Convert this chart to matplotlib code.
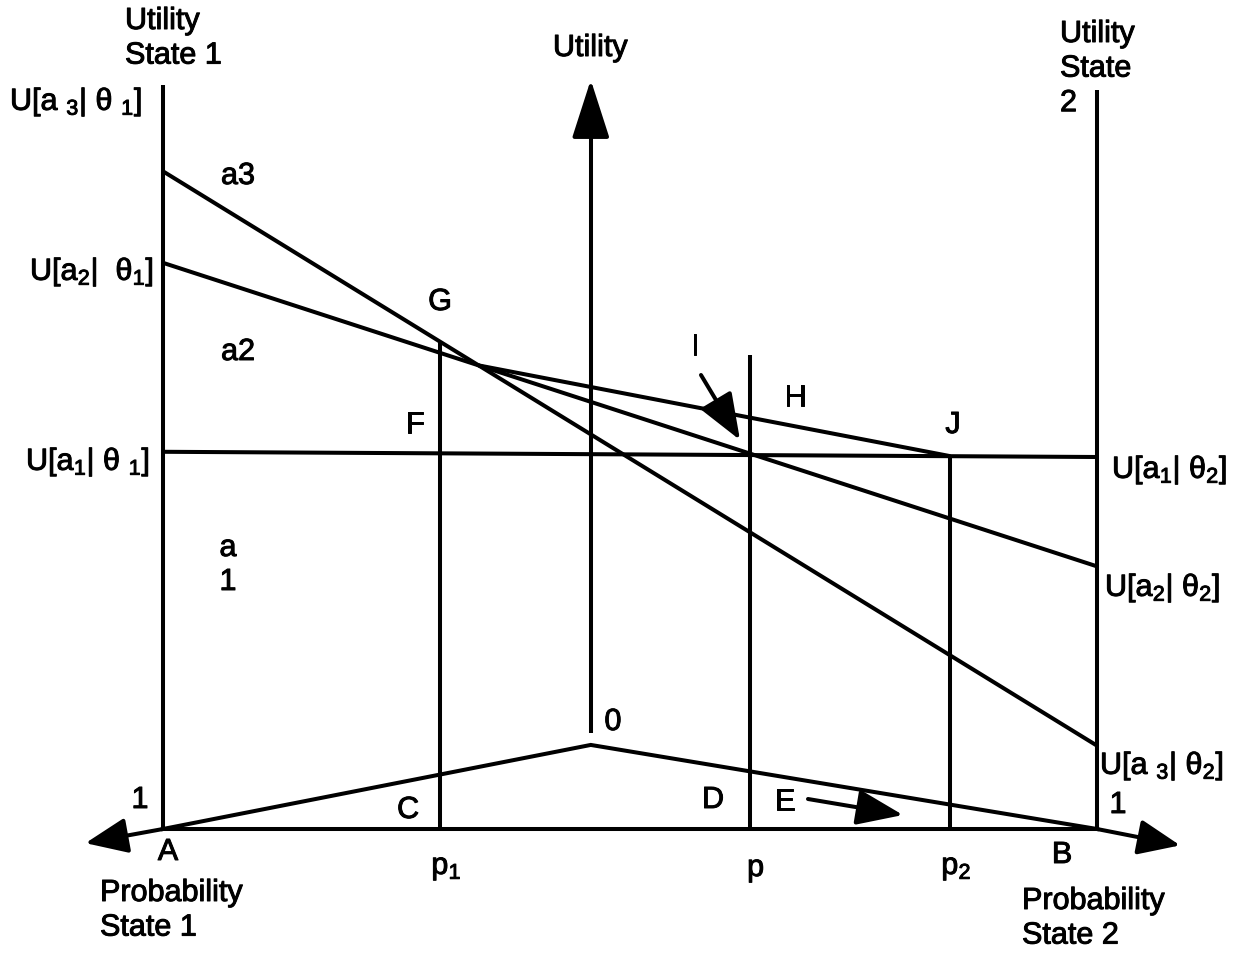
import matplotlib
matplotlib.use('Agg')
import matplotlib.pyplot as plt
import matplotlib.patheffects as pe

plt.rcParams['font.family'] = ['Liberation Sans', 'DejaVu Sans']
plt.rcParams['mathtext.fontset'] = 'custom'
plt.rcParams['mathtext.rm'] = 'Liberation Sans'
plt.rcParams['mathtext.it'] = 'Liberation Sans'
plt.rcParams['mathtext.default'] = 'regular'

# ---------------- data (probability of state 2 on x, utility on y) ----------------
actions = ['a1', 'a2', 'a3']
utility_state1 = [5.07, 7.61, 8.84]      # U[a_i | theta_1]
utility_state2 = [5.00, 3.53, 1.12]      # U[a_i | theta_2]
prob_marks = [0.297, 0.628, 0.843]       # p1, p, p2
prob_mark_labels = ['p$_1$', 'p', 'p$_2$']
utility_axis_top = 10.0
central_axis_prob = 0.458
central_axis_range = [1.29, 10.07]
tent_prob = [0.0, 0.458, 1.0]
tent_utility = [0.0, 1.13, 0.0]
p_line_top = 6.37
base_arrow_left = [-0.083, -0.19]
base_arrow_right = [1.089, -0.22]

# ---------------- figure ----------------
W, H = 1247, 956
fig = plt.figure(figsize=(W / 100, H / 100), dpi=100)
ax = fig.add_axes([0, 0, 1, 1])
x0, xs = 163, 934      # pixel of prob 0, pixels per unit prob
y0, ys = 829, 74.4     # pixel of utility 0, pixels per utility unit
ax.set_xlim(-x0 / xs, (W - x0) / xs)
ax.set_ylim(-(H - y0) / ys, y0 / ys)
ax.axis('off')

LW = 2.9
K = 'black'
kw = dict(color=K, lw=LW, solid_capstyle='butt')

def u_at(i, p):
    return utility_state1[i] + (utility_state2[i] - utility_state1[i]) * p

# side utility axes and probability base line
ax.plot([0, 0], [-0.01, utility_axis_top], **kw)
ax.plot([1, 1], [0.0, utility_axis_top - 0.07], **kw)
ax.plot([0, 1], [0, 0], **kw)
arrow = dict(arrowstyle='-|>,head_length=1.0,head_width=0.42', mutation_scale=26,
             lw=LW, color=K, shrinkA=0, shrinkB=0)
ax.annotate('', xy=base_arrow_left, xytext=(0, 0), arrowprops=arrow)
ax.annotate('', xy=base_arrow_right, xytext=(1, 0), arrowprops=arrow)

# central utility axis
ax.plot([central_axis_prob] * 2, [central_axis_range[0], central_axis_range[1] - 0.4], **kw)
ax.annotate('', xy=(central_axis_prob, central_axis_range[1]),
            xytext=(central_axis_prob, central_axis_range[1] - 0.6),
            arrowprops=dict(arrowstyle='-|>,head_length=1.4,head_width=0.45',
                            mutation_scale=26, lw=LW, color=K, shrinkA=0, shrinkB=0))

# action lines
for i in range(len(actions)):
    ax.plot([0, 1], [utility_state1[i], utility_state2[i]], **kw)

# vertical lines at p1, p, p2
p1, p, p2 = prob_marks
ax.plot([p1, p1], [0, u_at(2, p1)], **kw)
ax.plot([p, p], [0, p_line_top], **kw)
ax.plot([p2, p2], [0, u_at(0, p2)], **kw)

# chord from a2/a3 intersection to J
d2 = utility_state2[1] - utility_state1[1]
d3 = utility_state2[2] - utility_state1[2]
px_int = (utility_state1[1] - utility_state1[2]) / (d3 - d2)
ax.plot([px_int, p2], [u_at(1, px_int), u_at(0, p2)], **kw)

# tent line
ax.plot(tent_prob, tent_utility, color=K, lw=LW, solid_joinstyle='miter')

# ---------------- text overlay in pixel coordinates ----------------
tx = fig.add_axes([0, 0, 1, 1], facecolor='none')
tx.set_xlim(0, W)
tx.set_ylim(H, 0)
tx.axis('off')
FS = 22
thick = [pe.withStroke(linewidth=0.7, foreground=K)]

def T(x, y, s, ha='center', va='center', **k):
    tx.text(x, y, s, ha=ha, va=va, fontsize=FS, color=K, linespacing=1.2,
            path_effects=thick, **k)

T(125, 6, 'Utility\nState 1', ha='left', va='top')
T(590, 48, 'Utility')
T(1060, 19, 'Utility\nState\n2', ha='left', va='top')

T(10, 110, r'U[a $_3$| θ $_1$]', ha='left', va='baseline')
T(30, 280, r'U[a$_2$|  θ$_1$]', ha='left', va='baseline')
T(26, 470, r'U[a$_1$| θ $_1$]', ha='left', va='baseline')
T(1112, 478, r'U[a$_1$| θ$_2$]', ha='left', va='baseline')
T(1105, 596, r'U[a$_2$| θ$_2$]', ha='left', va='baseline')
T(1100, 774, r'U[a $_3$| θ$_2$]', ha='left', va='baseline')

T(238, 176, 'a3')
T(238, 352, 'a2')
T(228, 548, 'a')
T(228, 582, '1')
T(440, 302, 'G')
T(695, 347, 'I')
T(795, 398, 'H')
T(415, 425, 'F')
T(953, 425, 'J')
T(613, 722, '0')
T(140, 800, '1')
T(1118, 805, '1')
T(408, 810, 'C')
T(713, 800, 'D')
T(785, 802, 'E')
T(168, 852, 'A')
T(1062, 855, 'B')
for lab, pr in zip(prob_mark_labels, prob_marks):
    T(x0 + xs * pr + 6, 868, lab)
T(100, 878, 'Probability\nState 1', ha='left', va='top')
T(1022, 886, 'Probability\nState 2', ha='left', va='top')

small_arrow = dict(arrowstyle='-|>,head_length=1.3,head_width=0.5', mutation_scale=22,
                   lw=LW, color=K, shrinkA=0, shrinkB=0)
tx.annotate('', xy=(740, 440), xytext=(701, 375), arrowprops=small_arrow)
tx.annotate('', xy=(903, 815), xytext=(808, 799), arrowprops=small_arrow)

fig.savefig('out.png', dpi=100, facecolor='white')
